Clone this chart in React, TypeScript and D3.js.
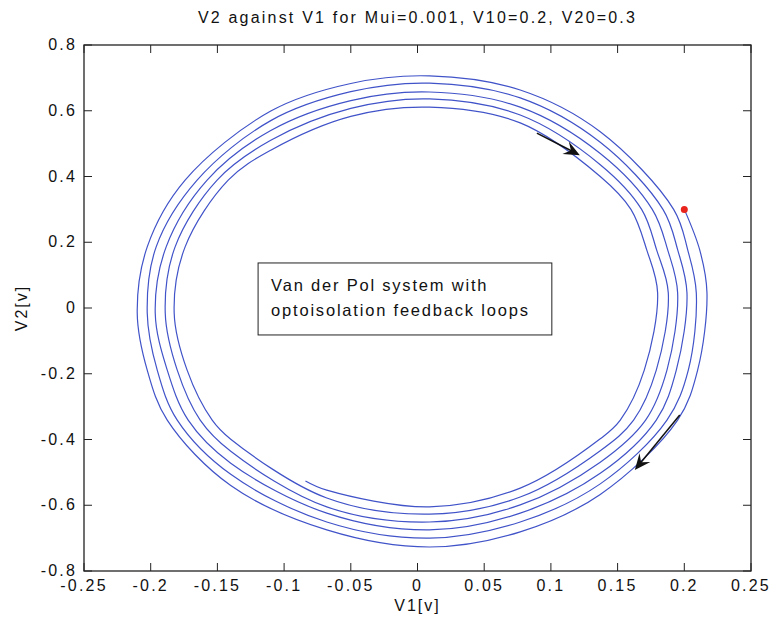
// phase portrait V2 vs V1 drawn with d3
import * as d3 from "d3";
import { useEffect, useRef } from "react";

const title = "V2 against V1 for Mui=0.001, V10=0.2, V20=0.3";
const xLabel = "V1[v]";
const yLabel = "V2[v]";
const note = ["Van der Pol system with", "optoisolation feedback loops"];

const xTicks = [-0.25, -0.2, -0.15, -0.1, -0.05, 0, 0.05, 0.1, 0.15, 0.2, 0.25];
const yTicks = [-0.8, -0.6, -0.4, -0.2, 0, 0.2, 0.4, 0.6, 0.8];

// start point (red dot) and the end of the trajectory
const startPoint: [number, number] = [0.2, 0.3];
const endPoint: [number, number] = [-0.084, -0.526];

// where each pass crosses a fixed line, outer pass first.
// ["y", 0.176, [...]] means the line y=0.176, values are x for each pass.
// stations in clockwise order, starting just after the red dot
const stations: [string, number, number[]][] = [
  ["y", 0.176, [0.2116, 0.2026, 0.1951, 0.1876, 0.1793, 0.1719]],
  ["y", 0.046, [0.217, 0.209, 0.202, 0.195, 0.188, 0.18]],
  ["y", -0.189, [0.21, 0.203, 0.194, 0.187, 0.179, 0.17]],
  ["y", -0.341, [0.195, 0.187, 0.179, 0.171, 0.162, 0.152]],
  ["x", 0.137, [-0.567, -0.535, -0.503, -0.469, -0.434, -0.398]],
  ["x", 0.077, [-0.681, -0.651, -0.624, -0.599, -0.575, -0.548]],
  ["x", 0.009, [-0.727, -0.7, -0.675, -0.651, -0.627, -0.605]],
  ["x", -0.068, [-0.675, -0.651, -0.624, -0.605, -0.578, -0.554]],
  ["x", -0.14, [-0.54, -0.506, -0.472, -0.436, -0.399]],
  ["y", -0.341, [-0.1876, -0.1801, -0.1719, -0.1629, -0.1539]],
  ["y", -0.189, [-0.2026, -0.1951, -0.1876, -0.1801, -0.1727]],
  ["y", -0.015, [-0.2101, -0.2026, -0.1966, -0.1891, -0.1824]],
  ["y", 0.186, [-0.2026, -0.1959, -0.1884, -0.1817, -0.1742]],
  ["y", 0.389, [-0.1742, -0.1652, -0.1577, -0.1502, -0.1419]],
  ["x", -0.11, [0.599, 0.57, 0.54, 0.51, 0.48]],
  ["x", -0.05, [0.683, 0.658, 0.631, 0.607, 0.583]],
  ["x", 0.009, [0.706, 0.684, 0.657, 0.636, 0.611]],
  ["x", 0.077, [0.663, 0.639, 0.611, 0.587, 0.563]],
  ["x", 0.137, [0.536, 0.504, 0.47, 0.436, 0.4]],
  ["y", 0.3, [0.192, 0.184, 0.176, 0.168, 0.16]],
];

// direction arrows [tail, tip]
const arrows: [number, number][][] = [
  [[0.0895, 0.532], [0.1217, 0.465]],
  [[0.1966, -0.3255], [0.1629, -0.4928]],
];

export default function App() {
  const svgRef = useRef<SVGSVGElement>(null);

  useEffect(() => {
    const W = 772;
    const H = 627;
    const margin = { top: 45, right: 21, bottom: 56, left: 84 };
    const font = "'Liberation Sans', Arial, sans-serif";

    const svg = d3.select(svgRef.current);
    svg.selectAll("*").remove();

    const x = d3.scaleLinear().domain([-0.25, 0.25]).range([margin.left, W - margin.right]);
    const y = d3.scaleLinear().domain([-0.8, 0.8]).range([H - margin.bottom, margin.top]);

    // build the trajectory from the station readings
    const pts: [number, number][] = [startPoint];
    for (let k = 0; k < 6; k++) {
      stations.forEach(([axis, at, vals]) => {
        if (vals[k] === undefined) return;
        pts.push(axis === "y" ? [vals[k], at] : [at, vals[k]]);
      });
    }
    pts.push(endPoint);

    const line = d3
      .line<[number, number]>()
      .x((d) => x(d[0]))
      .y((d) => y(d[1]))
      .curve(d3.curveCatmullRom.alpha(0.5));

    svg
      .append("path")
      .attr("d", line(pts))
      .attr("fill", "none")
      .attr("stroke", "#4053c8")
      .attr("stroke-width", 1.2);

    // red start dot
    svg
      .append("circle")
      .attr("cx", x(startPoint[0]))
      .attr("cy", y(startPoint[1]))
      .attr("r", 3.5)
      .attr("fill", "#e8241c");

    // arrows
    arrows.forEach(([t, h]) => {
      const x1 = x(t[0]), y1 = y(t[1]), x2 = x(h[0]), y2 = y(h[1]);
      const ang = Math.atan2(y2 - y1, x2 - x1);
      const g = svg
        .append("g")
        .attr("transform", `translate(${x2},${y2}) rotate(${(ang * 180) / Math.PI})`);
      const len = Math.hypot(x2 - x1, y2 - y1);
      g.append("line")
        .attr("x1", -len)
        .attr("y1", 0)
        .attr("x2", -8)
        .attr("y2", 0)
        .attr("stroke", "#111")
        .attr("stroke-width", 1.5);
      g.append("path").attr("d", "M0,0 L-16,-7 L-10,0 L-16,7 Z").attr("fill", "#111");
    });

    // annotation box
    const bx = x(-0.1195), by = y(0.137);
    svg
      .append("rect")
      .attr("x", bx)
      .attr("y", by)
      .attr("width", x(0.1007) - bx)
      .attr("height", y(-0.082) - by)
      .attr("fill", "white")
      .attr("stroke", "#222")
      .attr("stroke-width", 1);
    note.forEach((t, i) => {
      svg
        .append("text")
        .attr("x", bx + 13)
        .attr("y", by + 28 + i * 25)
        .attr("font-family", font)
        .attr("font-size", 16.5)
        .attr("letter-spacing", 1.8)
        .attr("fill", "#111")
        .text(t);
    });

    // axes box with inward ticks on all sides
    const axColor = "#222";
    const tick = 8;
    const ax = svg.append("g").attr("font-family", font).attr("font-size", 16);
    ax.append("rect")
      .attr("x", margin.left)
      .attr("y", margin.top)
      .attr("width", W - margin.left - margin.right)
      .attr("height", H - margin.top - margin.bottom)
      .attr("fill", "none")
      .attr("stroke", axColor)
      .attr("stroke-width", 1.3);

    xTicks.forEach((v) => {
      ax.append("line")
        .attr("x1", x(v)).attr("x2", x(v))
        .attr("y1", y(-0.8)).attr("y2", y(-0.8) - tick)
        .attr("stroke", axColor);
      ax.append("line")
        .attr("x1", x(v)).attr("x2", x(v))
        .attr("y1", y(0.8)).attr("y2", y(0.8) + tick)
        .attr("stroke", axColor);
      ax.append("text")
        .attr("x", x(v))
        .attr("y", y(-0.8) + 20)
        .attr("text-anchor", "middle")
        .attr("letter-spacing", 2.2)
        .attr("fill", "#111")
        .text(String(v));
    });

    yTicks.forEach((v) => {
      ax.append("line")
        .attr("x1", x(-0.25)).attr("x2", x(-0.25) + tick)
        .attr("y1", y(v)).attr("y2", y(v))
        .attr("stroke", axColor);
      ax.append("line")
        .attr("x1", x(0.25)).attr("x2", x(0.25) - tick)
        .attr("y1", y(v)).attr("y2", y(v))
        .attr("stroke", axColor);
      ax.append("text")
        .attr("x", x(-0.25) - 7)
        .attr("y", y(v) + 5)
        .attr("text-anchor", "end")
        .attr("letter-spacing", 2.2)
        .attr("fill", "#111")
        .text(String(v));
    });

    // labels and title
    ax.append("text")
      .attr("x", (x(-0.25) + x(0.25)) / 2)
      .attr("y", 611)
      .attr("text-anchor", "middle")
      .attr("letter-spacing", 2)
      .attr("fill", "#111")
      .text(xLabel);
    ax.append("text")
      .attr("transform", `translate(27,${y(0)}) rotate(-90)`)
      .attr("text-anchor", "middle")
      .attr("letter-spacing", 2)
      .attr("fill", "#111")
      .text(yLabel);
    ax.append("text")
      .attr("x", (x(-0.25) + x(0.25)) / 2)
      .attr("y", 23)
      .attr("text-anchor", "middle")
      .attr("letter-spacing", 2.2)
      .attr("fill", "#111")
      .text(title);
  }, []);

  return (
    <div style={{ position: "absolute", left: 0, top: 0, background: "white" }}>
      <svg ref={svgRef} width={772} height={627} style={{ display: "block" }} />
    </div>
  );
}
